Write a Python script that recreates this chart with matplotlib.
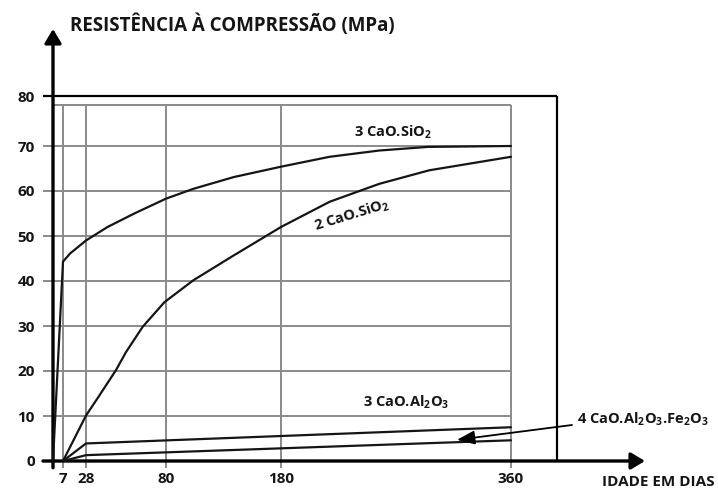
import numpy as np
import matplotlib
matplotlib.use("Agg")
import matplotlib.pyplot as plt
from matplotlib import font_manager

# Hydration of the cement clinker compounds: strength vs. age
c3s_days = [0, 7, 13.4, 28, 42, 59.4, 80, 104, 139, 180, 218, 257, 295, 360]
c3s_mpa = [0, 44.3, 46.1, 49.0, 52.0, 55.0, 58.3, 60.5, 63.1, 65.4, 67.6, 69.0, 69.8, 70.0]

c2s_days = [7, 28, 36, 47.5, 54, 64.8, 79, 104, 139, 180, 218, 257, 296, 360]
c2s_mpa = [0, 10.1, 14.2, 20.2, 24.2, 29.8, 35.3, 40.2, 45.7, 52.0, 57.6, 61.6, 64.6, 67.6]

c3a_days = [7, 28, 360]
c3a_mpa = [0, 3.9, 7.5]

c4af_days = [7, 28, 360]
c4af_mpa = [0, 1.3, 4.6]

x_ticks = [7, 28, 80, 180, 360]
y_ticks = [0, 10, 20, 30, 40, 50, 60, 70, 80]

# both axes of the sketch are unevenly spaced; positions are in pixels
DAY_KNOTS = [-10, 0, 7, 28, 80, 180, 360, 500]
DAY_POS = [43, 53, 63, 86, 166, 281, 511, 690]
MPA_KNOTS = [-10, 0, 70, 80, 100]
MPA_POS = [-45, 0, 315, 365, 465]


def x_fwd(d):
    return np.interp(d, DAY_KNOTS, DAY_POS)


def x_inv(p):
    return np.interp(p, DAY_POS, DAY_KNOTS)


def y_fwd(v):
    return np.interp(v, MPA_KNOTS, MPA_POS)


def y_inv(p):
    return np.interp(p, MPA_POS, MPA_KNOTS)


def pick_font(names):
    have = {f.name for f in font_manager.fontManager.ttflist}
    for n in names:
        if n in have:
            return n
    return "DejaVu Sans"


label_font = pick_font(["Open Sans", "Noto Sans", "DejaVu Sans"])

plt.rcParams["font.family"] = label_font
plt.rcParams["mathtext.default"] = "regular"

GRAY = "#8a8a8a"
INK = "#151515"
BOX_RIGHT = 396
GRID_TOP = 78.3

fig = plt.figure(figsize=(7.18, 4.88), dpi=100)
ax = fig.add_axes([53 / 718, 27 / 488, 592 / 718, 432 / 488])
ax.set_xscale("function", functions=(x_fwd, x_inv))
ax.set_yscale("function", functions=(y_fwd, y_inv))
x_right = float(x_inv(645))
y_top = float(y_inv(432))
ax.set_xlim(0, x_right)
ax.set_ylim(0, y_top)
for s in ax.spines.values():
    s.set_visible(False)

# grid
ax.vlines(x_ticks, -1.5, GRID_TOP, color=GRAY, lw=1.4, clip_on=False, zorder=1)
ax.hlines(y_ticks[1:-1], -10, 360, color=GRAY, lw=1.4, clip_on=False, zorder=1)
ax.hlines(GRID_TOP, 0, 360, color=GRAY, lw=1.4, zorder=1)

# outer frame
ax.hlines(80, -10, BOX_RIGHT, color="black", lw=1.6, clip_on=False, zorder=2)
ax.vlines(BOX_RIGHT, 0, 80, color="black", lw=1.6, zorder=2)

# axes with arrows
arrow_kw = dict(arrowstyle="-|>,head_length=0.6,head_width=0.36", color="black",
                lw=2.4, mutation_scale=14, shrinkA=0, shrinkB=0)
ax.annotate("", xy=(0, y_top), xytext=(0, -1.5), arrowprops=arrow_kw,
            annotation_clip=False)
ax.annotate("", xy=(x_right, 0), xytext=(-10, 0), arrowprops=arrow_kw,
            annotation_clip=False)

# curves
for d, v in [(c3s_days, c3s_mpa), (c2s_days, c2s_mpa),
             (c3a_days, c3a_mpa), (c4af_days, c4af_mpa)]:
    ax.plot(d, v, color=INK, lw=1.6, clip_on=False, zorder=3,
            solid_capstyle="round", solid_joinstyle="round")

# ticks
ax.set_xticks(x_ticks)
ax.set_xticklabels([str(t) for t in x_ticks])
ax.set_yticks(y_ticks)
ax.set_yticklabels([str(t) for t in y_ticks])
ax.minorticks_off()
ax.tick_params(axis="both", length=0, labelsize=11, labelcolor=INK)
ax.tick_params(axis="x", pad=8)
ax.tick_params(axis="y", pad=13)
for lab in ax.get_xticklabels() + ax.get_yticklabels():
    lab.set_fontweight("bold")

lbl = dict(fontsize=10.5, fontweight="bold", color=INK)
ax.text(268, 71.8, r"3 CaO.SiO$_2$", ha="center", va="baseline", **lbl)
ax.text(235, 54.6, r"2 CaO.SiO$_2$", ha="center", va="center",
        rotation=17, rotation_mode="anchor", **lbl)
ax.text(278, 12.0, r"3 CaO.Al$_2$O$_3$", ha="center", va="baseline", **lbl)
ax.text(411.6, 8.2, r"4 CaO.Al$_2$O$_3$.Fe$_2$O$_3$", ha="left", va="baseline",
        **lbl)
ax.annotate("", xy=(317.7, 4.7), xytext=(407.7, 8.0),
            arrowprops=dict(arrowstyle="-|>,head_length=0.9,head_width=0.35",
                            color="black", lw=1.3, mutation_scale=12,
                            shrinkA=0, shrinkB=0),
            annotation_clip=False)

ax.text(431, -5.6, "IDADE EM DIAS", ha="left", va="baseline",
        fontsize=11, fontweight="bold", color=INK)

fig.text(70 / 718, 1 - 25 / 488, "RESISTÊNCIA À COMPRESSÃO (MPa)",
         ha="left", va="center", fontsize=13.5, fontweight="bold", color=INK)

fig.savefig("out.png", dpi=100)
